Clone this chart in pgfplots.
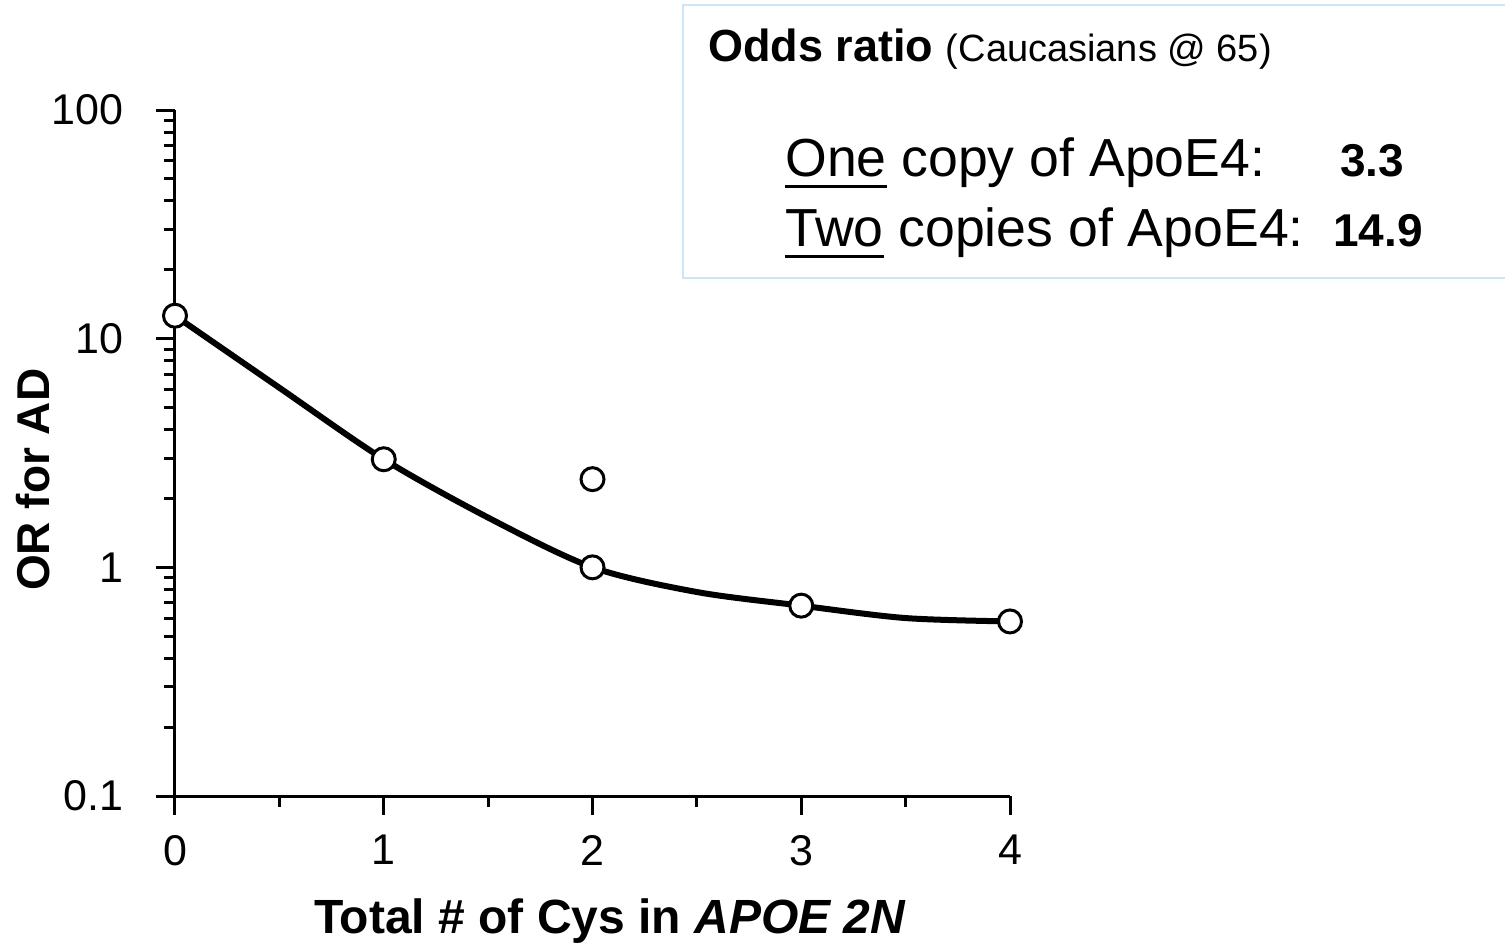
\documentclass[border=0pt]{standalone}
\usepackage{pgfplots}
\pgfplotsset{compat=1.18}
\usepackage{fontspec}
\setmainfont{Liberation Sans}
\definecolor{boxblue}{RGB}{204,230,248}
\newcommand\myul[1]{\setbox0\hbox{#1}\rlap{\rule[-5.5pt]{\wd0}{1.5pt}}#1}

\begin{document}
\begin{tikzpicture}
\path[use as bounding box] (0,0) rectangle (752.5pt,471.5pt);
\begin{axis}[
  at={(87.5pt,73.5pt)}, anchor=south west, scale only axis,
  width=417.5pt, height=343pt,
  xmin=0, xmax=4, ymode=log, ymin=0.1, ymax=100,
  axis lines=left, axis line style={-, line width=1.5pt, black},
  tick align=outside,
  xtick={0,1,2,3,4}, xticklabels={0,1,2,3,4},
  minor xtick={0.5,1.5,2.5,3.5},
  ytick={0.1,1,10,100}, yticklabels={0.1,1,10,100},
  minor ytick={0.2,0.3,0.4,0.5,0.6,0.7,0.8,0.9,2,3,4,5,6,7,8,9,20,30,40,50,60,70,80,90},
  major tick length=9.5pt, minor tick length=5.5pt,
  major tick style={line width=1.5pt, black},
  minor tick style={line width=1.5pt, black},
  /pgf/number format/assume math mode=true,
  tick label style={font=\fontsize{21.5}{26}\selectfont},
  yticklabel style={anchor=east, inner sep=0pt, xshift=-16pt},
  xticklabel style={anchor=north, inner sep=0pt, yshift=-10pt},
  xlabel={\textbf{Total \# of Cys in \textit{APOE 2N}}},
  xlabel style={font=\fontsize{24}{28}\selectfont, at={(axis description cs:0.521,-0.1997)}, anchor=base},
  ylabel={\textbf{OR for AD}},
  ylabel style={font=\fontsize{23}{28}\selectfont, at={(axis description cs:-0.1509,0.461)}, anchor=base, rotate=0},
  clip=false,
]
\addplot[black, line width=3pt, smooth] coordinates {
  (0,12.6) (0.5,6.1) (1,2.97) (1.5,1.65) (2,1.0) (2.5,0.78) (3,0.68) (3.5,0.60) (4,0.58)
};
\addplot[only marks, mark=*, mark size=5.75pt, mark options={fill=white, draw=black, line width=1.5pt}] coordinates {
  (0,12.6) (1,2.97) (2,2.43) (2,1.0) (3,0.68) (4,0.58)
};
\end{axis}
\draw[boxblue, line width=1pt] (754pt,469pt) -- (341.5pt,469pt) -- (341.5pt,332.5pt) -- (754pt,332.5pt);
\node[anchor=base west, inner sep=0pt] at (354pt,440.5pt) {\fontsize{22.5}{27}\selectfont\textbf{Odds ratio} {\fontsize{19}{23}\selectfont(Caucasians @ 65)}};
\node[anchor=base west, inner sep=0pt] at (392.5pt,383pt) {\fontsize{26.8}{32}\selectfont\myul{One} copy of ApoE4:};
\node[anchor=base west, inner sep=0pt] at (670pt,383pt) {\fontsize{23}{27}\selectfont\textbf{3.3}};
\node[anchor=base west, inner sep=0pt] at (392.5pt,348pt) {\fontsize{26.8}{32}\selectfont\myul{Two} copies of ApoE4:};
\node[anchor=base west, inner sep=0pt] at (666.5pt,348pt) {\fontsize{23}{27}\selectfont\textbf{14.9}};
\end{tikzpicture}
\end{document}
